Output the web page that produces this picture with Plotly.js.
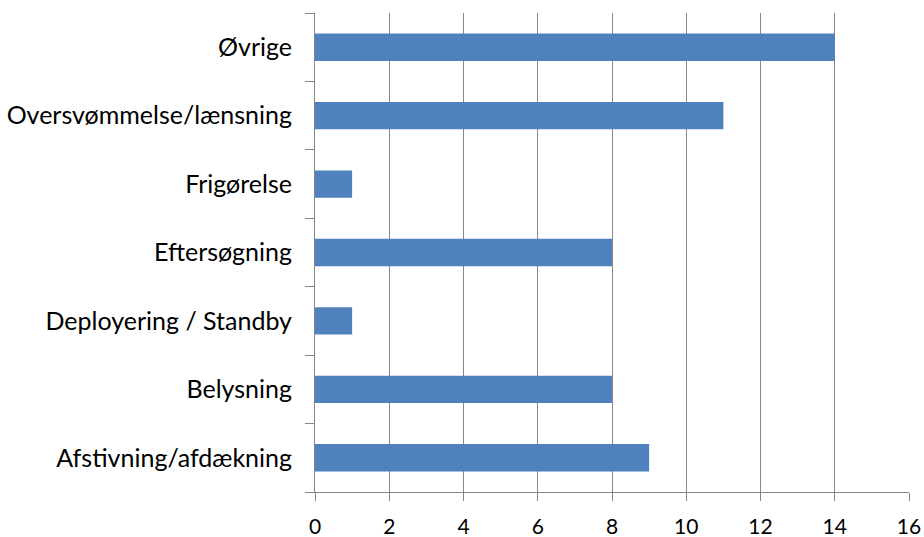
<!DOCTYPE html>
<html><head><meta charset="utf-8">
<script src="https://cdn.plot.ly/plotly-3.0.1.min.js"></script>
<style>html,body{margin:0;padding:0;background:#fff;}#chart{width:924px;height:537px;}</style>
</head><body><div id="chart"></div>
<script>
const categories = ["Afstivning/afdækning","Belysning","Deployering / Standby","Eftersøgning","Frigørelse","Oversvømmelse/lænsning","Øvrige"];
const values = [9, 8, 1, 8, 1, 11, 14];
const xTicks = [0, 2, 4, 6, 8, 10, 12, 14, 16];

const trace = {
  type: 'bar', orientation: 'h',
  x: values, y: categories,
  marker: {color: '#4F81BD'},
  hoverinfo: 'x+y'
};
const layout = {
  width: 924, height: 537,
  margin: {l: 315, r: 15, t: 13, b: 45},
  paper_bgcolor: '#fff', plot_bgcolor: '#fff',
  showlegend: false,
  bargap: 0.6,
  font: {family: 'Lato, "Open Sans", sans-serif', size: 25, color: '#000'},
  xaxis: {
    range: [0, 16], tickvals: xTicks, ticktext: xTicks.map(String),
    tickfont: {size: 21},
    showgrid: true, gridcolor: '#868686', gridwidth: 1,
    zeroline: false, showline: true, linecolor: '#868686', linewidth: 1,
    ticks: 'outside', ticklen: 8, tickcolor: '#868686',
    ticklabelstandoff: 8,
    fixedrange: true
  },
  yaxis: {
    type: 'category', categoryarray: categories,
    showgrid: false, zeroline: false,
    showline: true, linecolor: '#868686', linewidth: 1,
    ticks: 'outside', ticklen: 9, tickcolor: '#868686', tickson: 'boundaries',
    ticklabelstandoff: 17,
    fixedrange: true
  }
};
Plotly.newPlot('chart', [trace], layout, {displayModeBar: false, staticPlot: true});
</script></body></html>
